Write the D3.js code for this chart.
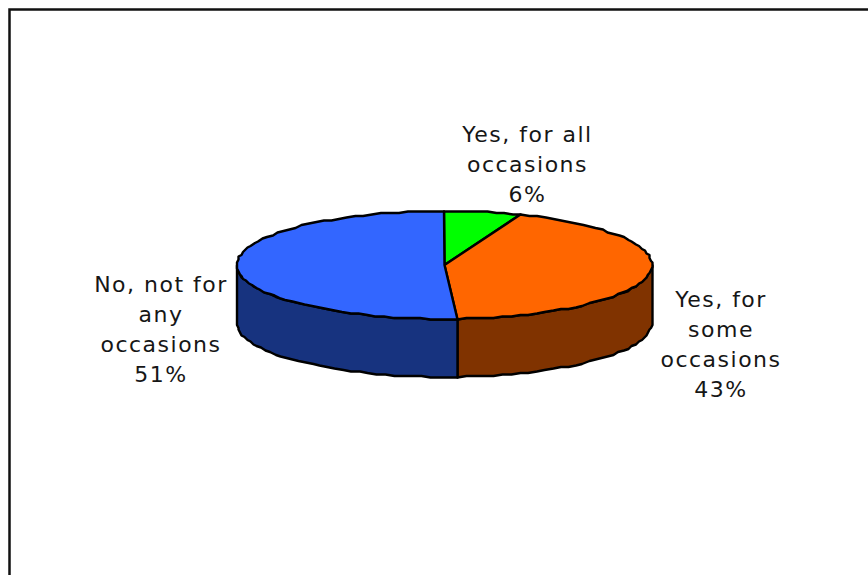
<!DOCTYPE html>
<html>
<head>
<meta charset="utf-8">
<script src="https://cdn.jsdelivr.net/npm/d3@7"></script>
<style>
html,body{margin:0;padding:0;background:#fff;overflow:hidden}
svg{display:block}
text{font-family:"DejaVu Sans",sans-serif;font-size:22px;letter-spacing:1.5px;fill:#161616;text-anchor:middle}
</style>
</head>
<body>
<svg id="chart" width="868" height="575"></svg>
<script>
// Survey answers, clockwise from twelve o'clock
const categories = ["Yes, for all occasions", "Yes, for some occasions", "No, not for any occasions"];
const shares = [6, 43, 51];
const topColors = ["#00ff00", "#ff6600", "#3366ff"];
const sideColors = ["#008000", "#803300", "#17337f"];
const labelLines = [
  ["Yes, for all", "occasions", "6%"],
  ["Yes, for", "some", "occasions", "43%"],
  ["No, not for", "any", "occasions", "51%"]
];
const labelAnchors = [[527.5, 142], [721, 307], [161, 292]];

const cx = 444.5, cy = 265, rx = 207.5, ry = 54, depth = 58;
const svg = d3.select("#chart");

// Chart frame runs off the right and bottom of the page
svg.append("rect").attr("x", 9.5).attr("y", 9.5).attr("width", 900).attr("height", 620)
  .attr("fill", "#fff").attr("stroke", "#111").attr("stroke-width", 2.5);

const arcs = d3.pie().sort(null).value(d => d)(shares);
const sx = d3.scaleLinear().domain([-1, 1]).range([cx - rx, cx + rx]);
const sy = d3.scaleLinear().domain([-1, 1]).range([cy - ry, cy + ry]);
const snap = v => Math.round(v / 1.5) * 1.5;
// Rim points sit on a coarse grid, giving the plotted ellipse its stepped outline
const rim = a => [snap(sx(Math.sin(a))), snap(sy(-Math.cos(a)))];
const rimPoints = (a0, a1) => {
  const n = Math.max(2, Math.ceil((a1 - a0) / 0.045));
  return d3.range(0, n + 1).map(k => rim(a0 + (a1 - a0) * k / n));
};
const line = d3.line();

// Side wall: only the part of each slice facing the viewer (PI/2 to 3PI/2)
arcs.forEach((d, i) => {
  const a0 = Math.max(d.startAngle, Math.PI / 2);
  const a1 = Math.min(d.endAngle, 3 * Math.PI / 2);
  if (a1 <= a0) return;
  const upper = rimPoints(a0, a1);
  const lower = upper.map(p => [p[0], p[1] + depth]).reverse();
  svg.append("path").attr("d", line(upper.concat(lower)) + "Z")
    .attr("fill", sideColors[i]).attr("stroke", "#000").attr("stroke-width", 2.4)
    .attr("stroke-linejoin", "round");
});

// Top face: each slice closes on the pie's centre
arcs.forEach((d, i) => {
  const pts = [[cx, cy]].concat(rimPoints(d.startAngle, d.endAngle));
  svg.append("path").attr("d", line(pts) + "Z").attr("fill", topColors[i])
    .attr("stroke", "#000").attr("stroke-width", 2.4)
    .attr("stroke-linejoin", "round");
});

// Data labels
labelLines.forEach((lines, i) => {
  const t = svg.append("text").attr("aria-label", categories[i]);
  lines.forEach((s, k) => {
    t.append("tspan").attr("x", labelAnchors[i][0]).attr("y", labelAnchors[i][1] + k * 30).text(s);
  });
});
</script>
</body>
</html>
